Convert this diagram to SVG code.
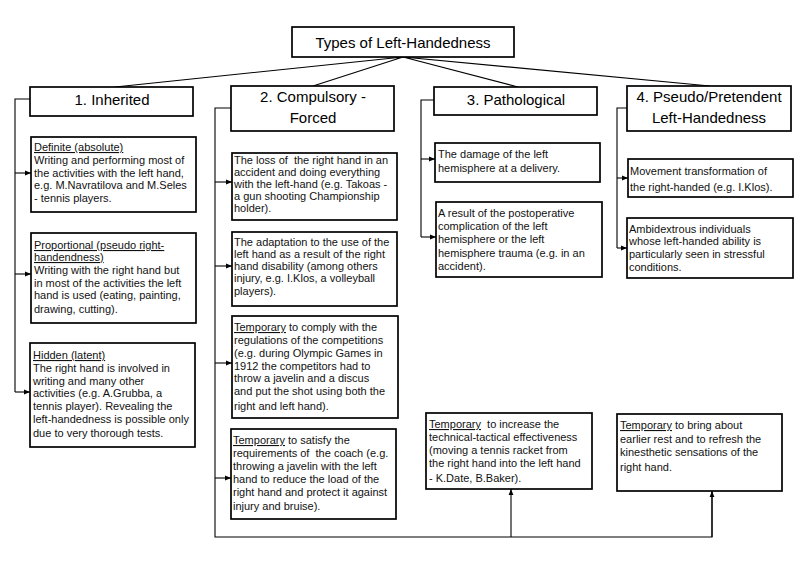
<svg xmlns="http://www.w3.org/2000/svg" width="807" height="566" viewBox="0 0 807 566">
<defs>
<style>
.box{fill:#fff;stroke:#000;stroke-width:1.7}
.t{font-family:"Liberation Sans",Arial,sans-serif;font-size:11px;fill:#111;white-space:pre}
.h{font-family:"Liberation Sans",Arial,sans-serif;font-size:15px;fill:#000;text-anchor:middle}
.u{text-decoration:underline}
.c{fill:none;stroke:#000;stroke-width:1.1}
</style>
<marker id="ar" viewBox="0 0 6 6" refX="6" refY="3" markerWidth="6" markerHeight="6" markerUnits="userSpaceOnUse" orient="auto">
<path d="M0,0.6 L6,3 L0,5.4 Z" fill="#000"/>
</marker>
</defs>
<rect width="807" height="566" fill="#fff"/>

<g id="connectors">
<path class="c" d="M403,57 L115,87 M403,57 L313,86 M403,57 L518,87 M403,57 L710,86"/>
<path class="c" d="M30,99 H15 V392"/>
<path class="c" d="M15,173 H31" marker-end="url(#ar)"/>
<path class="c" d="M15,274 H31" marker-end="url(#ar)"/>
<path class="c" d="M15,392 H30" marker-end="url(#ar)"/>
<path class="c" d="M231,108 H215 V537 H712 V491"/>
<path class="c" d="M215,182 H232" marker-end="url(#ar)"/>
<path class="c" d="M215,266 H232" marker-end="url(#ar)"/>
<path class="c" d="M215,363 H232" marker-end="url(#ar)"/>
<path class="c" d="M215,478 H231" marker-end="url(#ar)"/>
<path class="c" d="M511,537 V489" marker-end="url(#ar)"/>
<path class="c" d="M712,537 V491" marker-end="url(#ar)"/>
<path class="c" d="M434,100 H421 V237"/>
<path class="c" d="M421,159 H435" marker-end="url(#ar)"/>
<path class="c" d="M421,237 H436" marker-end="url(#ar)"/>
<path class="c" d="M627,108 H617 V248"/>
<path class="c" d="M617,178 H628" marker-end="url(#ar)"/>
<path class="c" d="M617,248 H627" marker-end="url(#ar)"/>
</g>

<g id="title">
<rect class="box" x="292" y="27" width="222" height="30"/>
<text class="h" x="403" y="48">Types of Left-Handedness</text>
</g>

<g id="h1">
<rect class="box" x="30" y="87" width="163" height="29"/>
<text class="h" x="112" y="105">1. Inherited</text>
</g>
<g id="h2">
<rect class="box" x="231" y="86" width="163" height="45"/>
<text class="h" x="313" y="102">2. Compulsory -</text>
<text class="h" x="313" y="123">Forced</text>
</g>
<g id="h3">
<rect class="box" x="434" y="87" width="163" height="28"/>
<text class="h" x="516" y="105">3. Pathological</text>
</g>
<g id="h4">
<rect class="box" x="627" y="86" width="164" height="45"/>
<text class="h" x="709" y="102">4. Pseudo/Pretendent</text>
<text class="h" x="709" y="123">Left-Handedness</text>
</g>

<g id="c1b1">
<rect class="box" x="31" y="137" width="165" height="75"/>
<text class="t" x="34" y="151"><tspan class="u">Definite (absolute)</tspan></text>
<text class="t" x="34" y="164">Writing and performing most of</text>
<text class="t" x="34" y="177">the activities with the left hand,</text>
<text class="t" x="34" y="189">e.g. M.Navratilova and M.Seles</text>
<text class="t" x="34" y="202">- tennis players.</text>
</g>
<g id="c1b2">
<rect class="box" x="31" y="233" width="165" height="90"/>
<text class="t" x="34" y="249"><tspan class="u">Proportional (pseudo right-</tspan></text>
<text class="t" x="34" y="261"><tspan class="u">handendness)</tspan></text>
<text class="t" x="34" y="274">Writing with the right hand but</text>
<text class="t" x="34" y="287">in most of the activities the left</text>
<text class="t" x="34" y="299">hand is used (eating, painting,</text>
<text class="t" x="34" y="313">drawing, cutting).</text>
</g>
<g id="c1b3">
<rect class="box" x="30" y="343" width="165" height="104"/>
<text class="t" x="33" y="359"><tspan class="u">Hidden (latent)</tspan></text>
<text class="t" x="33" y="372">The right hand is involved in</text>
<text class="t" x="33" y="385">writing and many other</text>
<text class="t" x="33" y="397">activities (e.g. A.Grubba, a</text>
<text class="t" x="33" y="410">tennis player). Revealing the</text>
<text class="t" x="33" y="423">left-handedness is possible only</text>
<text class="t" x="33" y="437">due to very thorough tests.</text>
</g>

<g id="c2b1">
<rect class="box" x="232" y="153" width="165" height="67"/>
<text class="t" x="234" y="164">The loss of  the right hand in an</text>
<text class="t" x="234" y="176">accident and doing everything</text>
<text class="t" x="234" y="188">with the left-hand (e.g. Takoas -</text>
<text class="t" x="234" y="200">a gun shooting Championship</text>
<text class="t" x="234" y="212">holder).</text>
</g>
<g id="c2b2">
<rect class="box" x="232" y="232" width="165" height="74"/>
<text class="t" x="234" y="246">The adaptation to the use of the</text>
<text class="t" x="234" y="258">left hand as a result of the right</text>
<text class="t" x="234" y="270">hand disability (among others</text>
<text class="t" x="234" y="282">injury, e.g. I.Klos, a volleyball</text>
<text class="t" x="234" y="295">players).</text>
</g>
<g id="c2b3">
<rect class="box" x="232" y="316" width="166" height="102"/>
<text class="t" x="234" y="331"><tspan class="u">Temporary</tspan> to comply with the</text>
<text class="t" x="234" y="344">regulations of the competitions</text>
<text class="t" x="234" y="357">(e.g. during Olympic Games in</text>
<text class="t" x="234" y="370">1912 the competitors had to</text>
<text class="t" x="234" y="382">throw a javelin and a discus</text>
<text class="t" x="234" y="395">and put the shot using both the</text>
<text class="t" x="234" y="410">right and left hand).</text>
</g>
<g id="c2b4">
<rect class="box" x="231" y="429" width="165" height="90"/>
<text class="t" x="233" y="444"><tspan class="u">Temporary</tspan> to satisfy the</text>
<text class="t" x="233" y="457">requirements of  the coach (e.g.</text>
<text class="t" x="233" y="470">throwing a javelin with the left</text>
<text class="t" x="233" y="483">hand to reduce the load of the</text>
<text class="t" x="233" y="496">right hand and protect it against</text>
<text class="t" x="233" y="510">injury and bruise).</text>
</g>

<g id="c3b1">
<rect class="box" x="435" y="143" width="165" height="39"/>
<text class="t" x="438" y="158">The damage of the left</text>
<text class="t" x="438" y="172">hemisphere at a delivery.</text>
</g>
<g id="c3b2">
<rect class="box" x="436" y="202" width="166" height="75"/>
<text class="t" x="438" y="217">A result of the postoperative</text>
<text class="t" x="438" y="230">complication of the left</text>
<text class="t" x="438" y="243">hemisphere or the left</text>
<text class="t" x="438" y="257">hemisphere trauma (e.g. in an</text>
<text class="t" x="438" y="270">accident).</text>
</g>

<g id="c4b1">
<rect class="box" x="628" y="159" width="165" height="38"/>
<text class="t" x="630" y="175">Movement transformation of</text>
<text class="t" x="630" y="191">the right-handed (e.g. I.Klos).</text>
</g>
<g id="c4b2">
<rect class="box" x="627" y="218" width="166" height="60"/>
<text class="t" x="629" y="233">Ambidextrous individuals</text>
<text class="t" x="629" y="245">whose left-handed ability is</text>
<text class="t" x="629" y="258">particularly seen in stressful</text>
<text class="t" x="629" y="271">conditions.</text>
</g>

<g id="b1">
<rect class="box" x="426" y="413" width="166" height="76"/>
<text class="t" x="429" y="428"><tspan class="u">Temporary</tspan>  to increase the</text>
<text class="t" x="429" y="441">technical-tactical effectiveness</text>
<text class="t" x="429" y="454">(moving a tennis racket from</text>
<text class="t" x="429" y="467">the right hand into the left hand</text>
<text class="t" x="429" y="482">- K.Date, B.Baker).</text>
</g>
<g id="b2">
<rect class="box" x="617" y="414" width="165" height="77"/>
<text class="t" x="620" y="429"><tspan class="u">Temporary</tspan> to bring about</text>
<text class="t" x="620" y="443">earlier rest and to refresh the</text>
<text class="t" x="620" y="456">kinesthetic sensations of the</text>
<text class="t" x="620" y="471">right hand.</text>
</g>
</svg>
